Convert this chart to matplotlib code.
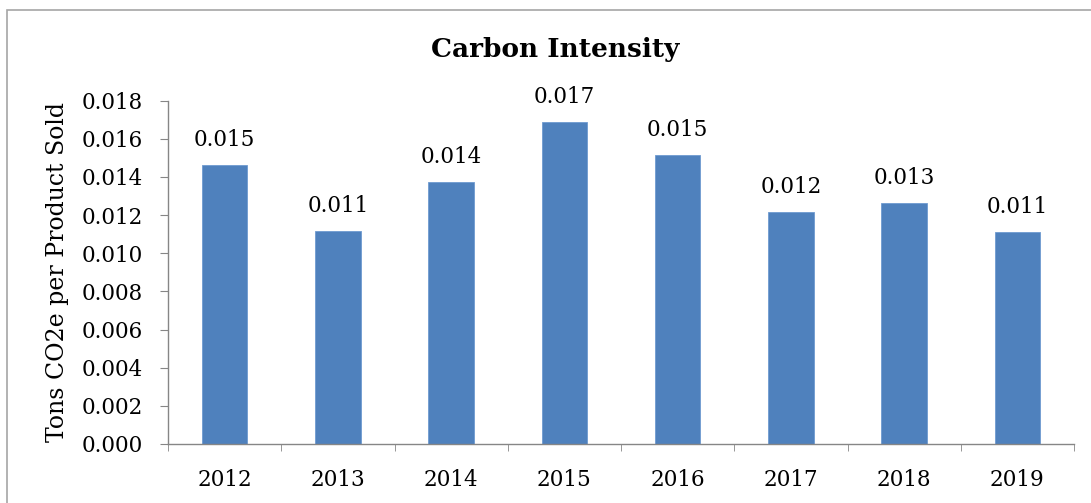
import matplotlib
matplotlib.use("Agg")
import matplotlib.pyplot as plt
from matplotlib.patches import Rectangle

years = ["2012", "2013", "2014", "2015", "2016", "2017", "2018", "2019"]
intensity = [0.01461, 0.01118, 0.01372, 0.01690, 0.01514, 0.01215, 0.01262, 0.01113]

plt.rcParams['font.family'] = ['DejaVu Serif']

fig = plt.figure(figsize=(10.91, 5.03), dpi=100)
ax = fig.add_axes([168/1091, 1-444/503, (1074-168)/1091, (444-100.7)/503])

# chart area border (Excel style)
fig.patches.append(Rectangle((7/1091, -0.05), 1.2, 1.05-10/503, transform=fig.transFigure,
                             fill=False, edgecolor='#a6a6a6', linewidth=1.2))

x = range(len(years))
bars = ax.bar(x, intensity, width=0.4, color='#4f81bd', edgecolor='#6f9bd0', linewidth=0.6)
for b, v in zip(bars, intensity):
    ax.annotate("{:.3f}".format(v), (b.get_x() + b.get_width()/2, v), xytext=(0, 10),
                textcoords='offset points', ha='center', va='bottom', fontsize=15.5)

ax.set_xlim(-0.5, len(years) - 0.5)
ax.set_ylim(0, 0.018)
ax.set_yticks([i*0.002 for i in range(10)])
ax.set_yticklabels(["{:.3f}".format(i*0.002) for i in range(10)])
ax.set_xticks(list(x))
ax.set_xticklabels(years)
ax.set_xticks([i - 0.5 for i in range(len(years) + 1)], minor=True)

for s in ['top', 'right']:
    ax.spines[s].set_visible(False)
for s in ['left', 'bottom']:
    ax.spines[s].set_color('#868686')
    ax.spines[s].set_linewidth(1.0)

ax.tick_params(axis='y', length=6, color='#868686', labelsize=15.5, pad=12)
ax.tick_params(axis='x', which='major', length=0, labelsize=15.5, pad=18)
ax.tick_params(axis='x', which='minor', length=5, color='#868686')

ax.set_ylabel("Tons CO2e per Product Sold", fontsize=17, labelpad=9)
fig.text(555/1091, 1-50/503, "Carbon Intensity", ha='center', va='center',
         fontsize=19, fontweight='bold')

fig.savefig("out.png", dpi=100)
